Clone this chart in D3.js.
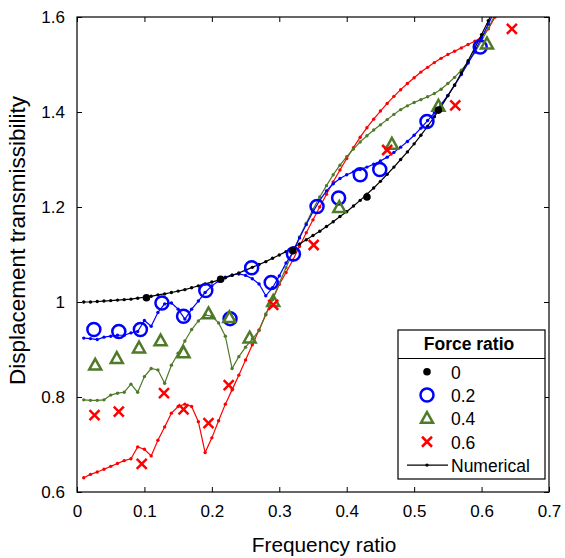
<!DOCTYPE html>
<html>
<head>
<meta charset="utf-8">
<script src="https://cdn.jsdelivr.net/npm/d3@7"></script>
<style>
  html, body { margin: 0; padding: 0; background: #fff; }
  svg { display: block; font-family: "Liberation Sans", Arial, sans-serif; }
</style>
</head>
<body>
<svg id="chart" width="565" height="558"></svg>
<script>
// Frequency-ratio grid of the numerical solution
const numX = [0.01,0.02,0.03,0.04,0.05,0.06,0.07,0.08,0.09,0.10,
  0.11,0.12,0.13,0.14,0.15,0.16,0.17,0.18,0.19,0.20,
  0.21,0.22,0.23,0.24,0.25,0.26,0.27,0.28,0.29,0.30,
  0.31,0.32,0.33,0.34,0.35,0.36,0.37,0.38,0.39,0.40,
  0.41,0.42,0.43,0.44,0.45,0.46,0.47,0.48,0.49,0.50,
  0.51,0.52,0.53,0.54,0.55,0.56,0.57,0.58,0.59,0.60,
  0.61,0.62];

// Numerical transmissibility, force ratio 0
const num0 = [1.000,1.000,1.001,1.002,1.003,1.004,1.005,1.006,1.008,1.010,
  1.012,1.015,1.017,1.020,1.023,1.026,1.030,1.034,1.038,1.042,
  1.046,1.051,1.056,1.061,1.067,1.073,1.079,1.085,1.092,1.099,
  1.106,1.114,1.122,1.131,1.140,1.149,1.159,1.169,1.180,1.190,
  1.202,1.214,1.227,1.240,1.254,1.269,1.284,1.300,1.316,1.333,
  1.351,1.370,1.390,1.411,1.434,1.457,1.482,1.508,1.535,1.563,
  1.592,1.622];

// Numerical transmissibility, force ratio 0.2
const num2 = [0.924,0.923,0.921,0.926,0.928,0.930,0.930,0.935,0.938,0.961,
  0.949,0.978,0.996,0.998,0.985,0.964,0.985,1.002,1.020,1.034,
  1.044,1.052,1.057,1.059,1.056,1.049,1.038,1.013,1.030,1.055,
  1.082,1.104,1.135,1.163,1.190,1.214,1.234,1.249,1.260,1.268,
  1.274,1.279,1.284,1.290,1.297,1.305,1.315,1.326,1.338,1.351,
  1.366,1.382,1.398,1.416,1.435,1.456,1.479,1.503,1.528,1.556,
  1.585,1.615];

// Numerical transmissibility, force ratio 0.4
const num4 = [0.794,0.793,0.793,0.794,0.804,0.808,0.810,0.827,0.810,0.843,
  0.860,0.857,0.829,0.867,0.892,0.918,0.942,0.960,0.973,0.970,
  0.956,0.928,0.860,0.885,0.905,0.922,0.940,0.975,1.005,1.040,
  1.072,1.105,1.137,1.166,1.195,1.221,1.245,1.268,1.288,1.306,
  1.322,1.337,1.350,1.362,1.373,1.384,1.395,1.405,1.413,1.420,
  1.426,1.432,1.439,1.448,1.460,1.473,1.488,1.505,1.525,1.550,
  1.576,1.605];

// Numerical transmissibility, force ratio 0.6
const num6 = [0.630,0.637,0.642,0.648,0.654,0.660,0.666,0.670,0.695,0.690,
  0.676,0.709,0.737,0.766,0.780,0.785,0.780,0.748,0.683,0.714,
  0.750,0.785,0.815,0.846,0.878,0.910,0.941,0.973,1.005,1.037,
  1.062,1.088,1.117,1.146,1.173,1.200,1.227,1.253,1.278,1.302,
  1.325,1.347,1.367,1.385,1.402,1.418,1.433,1.447,1.460,1.472,
  1.484,1.494,1.504,1.513,1.521,1.528,1.535,1.542,1.549,1.558,
  1.575,1.600];

// Measured points per force ratio
const exp0X = [0.103,0.213,0.320,0.430,0.536];
const exp0Y = [1.009,1.048,1.108,1.221,1.404];
const exp2X = [0.025,0.062,0.094,0.126,0.158,0.191,0.227,0.259,0.288,0.321,0.356,0.388,0.420,0.449,0.519,0.598];
const exp2Y = [0.942,0.938,0.942,0.998,0.970,1.024,0.965,1.072,1.041,1.101,1.201,1.219,1.268,1.279,1.380,1.537];
const exp4X = [0.027,0.059,0.092,0.124,0.158,0.195,0.226,0.256,0.291,0.389,0.467,0.536,0.608];
const exp4Y = [0.867,0.881,0.903,0.918,0.893,0.975,0.967,0.924,1.001,1.199,1.332,1.412,1.543];
const exp6X = [0.026,0.062,0.096,0.129,0.158,0.195,0.225,0.291,0.351,0.460,0.561,0.645];
const exp6Y = [0.762,0.769,0.659,0.808,0.774,0.745,0.825,0.994,1.120,1.320,1.414,1.575];

// Axis ticks and legend labels
const xTicks = [0,0.1,0.2,0.3,0.4,0.5,0.6,0.7];
const yTicks = [0.6,0.8,1.0,1.2,1.4,1.6];
const legendLabels = ["0","0.2","0.4","0.6","Numerical"];

const colors = { r0: "#000000", r2: "#0000ff", r4: "#4f7a28", r6: "#ff0000" };

const svg = d3.select("#chart");
const pLeft = 77, pRight = 549, pTop = 17, pBottom = 492;

const x = d3.scaleLinear().domain([0, 0.7]).range([pLeft, pRight]);
const y = d3.scaleLinear().domain([0.6, 1.6]).range([pBottom, pTop]);

// clip region for the plot area
svg.append("defs").append("clipPath").attr("id", "plotClip")
  .append("rect").attr("x", pLeft).attr("y", pTop)
  .attr("width", pRight - pLeft).attr("height", pBottom - pTop);

const plot = svg.append("g").attr("clip-path", "url(#plotClip)");

const line = d3.line().x(d => x(d[0])).y(d => y(d[1]));

function numerical(ys, color) {
  const pts = numX.map((v, i) => [v, ys[i]]);
  plot.append("path").datum(pts)
    .attr("d", line).attr("fill", "none")
    .attr("stroke", color).attr("stroke-width", 1.2);
  plot.append("g").selectAll("circle").data(pts).join("circle")
    .attr("cx", d => x(d[0])).attr("cy", d => y(d[1]))
    .attr("r", 1.7).attr("fill", color);
}

numerical(num6, colors.r6);
numerical(num4, colors.r4);
numerical(num2, colors.r2);
numerical(num0, colors.r0);

const pairs = (xs, ys) => xs.map((v, i) => [v, ys[i]]);

// marker drawers
function dotMarker(g, cx, cy) {
  g.append("circle").attr("cx", cx).attr("cy", cy).attr("r", 3.8).attr("fill", colors.r0);
}
function circleMarker(g, cx, cy) {
  g.append("circle").attr("cx", cx).attr("cy", cy).attr("r", 6.5)
    .attr("fill", "none").attr("stroke", colors.r2).attr("stroke-width", 2.5);
}
function triMarker(g, cx, cy) {
  g.append("path")
    .attr("d", `M${cx},${cy - 6.4}L${cx + 6},${cy + 4.4}L${cx - 6},${cy + 4.4}Z`)
    .attr("fill", "none").attr("stroke", colors.r4).attr("stroke-width", 2.5)
    .attr("stroke-linejoin", "miter");
}
function crossMarker(g, cx, cy) {
  const s = 5;
  g.append("path")
    .attr("d", `M${cx - s},${cy - s}L${cx + s},${cy + s}M${cx - s},${cy + s}L${cx + s},${cy - s}`)
    .attr("stroke", colors.r6).attr("stroke-width", 2.5).attr("fill", "none");
}

const mk = plot.append("g");
pairs(exp2X, exp2Y).forEach(d => circleMarker(mk, x(d[0]), y(d[1])));
pairs(exp4X, exp4Y).forEach(d => triMarker(mk, x(d[0]), y(d[1])));
pairs(exp6X, exp6Y).forEach(d => crossMarker(mk, x(d[0]), y(d[1])));
pairs(exp0X, exp0Y).forEach(d => dotMarker(mk, x(d[0]), y(d[1])));

// axes with inward ticks
const tickSize = 5;
const axG = svg.append("g");
const fmt = d => d3.format("")(+d.toFixed(1));

axG.append("g").attr("transform", `translate(0,${pBottom})`)
  .call(d3.axisBottom(x).tickValues(xTicks).tickSize(-tickSize).tickPadding(13).tickFormat(fmt))
  .call(g => g.select(".domain").remove());

axG.append("g").attr("transform", `translate(${pLeft},0)`)
  .call(d3.axisLeft(y).tickValues(yTicks).tickSize(-tickSize).tickPadding(12).tickFormat(fmt))
  .call(g => g.select(".domain").remove());

axG.append("g").attr("transform", `translate(0,${pTop})`)
  .call(d3.axisTop(x).tickValues(xTicks).tickSize(-tickSize).tickFormat(""))
  .call(g => g.select(".domain").remove());

axG.append("g").attr("transform", `translate(${pRight},0)`)
  .call(d3.axisRight(y).tickValues(yTicks).tickSize(-tickSize).tickFormat(""))
  .call(g => g.select(".domain").remove());

axG.selectAll("text").attr("font-family", "Liberation Sans, Arial, sans-serif")
  .attr("font-size", 17).attr("fill", "#000");
axG.selectAll("line").attr("stroke", "#000").attr("stroke-width", 1);

svg.append("rect").attr("x", pLeft).attr("y", pTop)
  .attr("width", pRight - pLeft).attr("height", pBottom - pTop)
  .attr("fill", "none").attr("stroke", "#000").attr("stroke-width", 1.2);

// axis titles
svg.append("text").attr("x", 324).attr("y", 552)
  .attr("text-anchor", "middle").attr("font-size", 20.8).text("Frequency ratio");
svg.append("text")
  .attr("transform", `translate(25,240.5) rotate(-90)`)
  .attr("text-anchor", "middle").attr("font-size", 22.5).text("Displacement transmissibility");

// legend
const lg = svg.append("g");
const lx = 398, ly = 330, lw = 147, lh = 149;
lg.append("rect").attr("x", lx).attr("y", ly).attr("width", lw).attr("height", lh)
  .attr("fill", "#fff").attr("stroke", "#000").attr("stroke-width", 1.2);
lg.append("line").attr("x1", lx).attr("x2", lx + lw).attr("y1", ly + 28.5).attr("y2", ly + 28.5)
  .attr("stroke", "#000").attr("stroke-width", 1.2);
lg.append("text").attr("x", 469).attr("y", 350)
  .attr("text-anchor", "middle").attr("font-size", 17.5).attr("font-weight", "bold")
  .text("Force ratio");

const rowY = d => 371.7 + d * 23.35;
const mx = 427, tx = 451;
dotMarker(lg, mx, rowY(0));
circleMarker(lg, mx, rowY(1));
triMarker(lg, mx, rowY(2));
crossMarker(lg, mx, rowY(3));
lg.append("line").attr("x1", 407).attr("x2", 448).attr("y1", rowY(4)).attr("y2", rowY(4))
  .attr("stroke", "#000").attr("stroke-width", 1.2);
lg.append("circle").attr("cx", mx).attr("cy", rowY(4)).attr("r", 1.7).attr("fill", "#000");

legendLabels.forEach((t, i) => {
  lg.append("text").attr("x", tx).attr("y", rowY(i) + 7)
    .attr("font-size", 17.5).text(t);
});
</script>
</body>
</html>
